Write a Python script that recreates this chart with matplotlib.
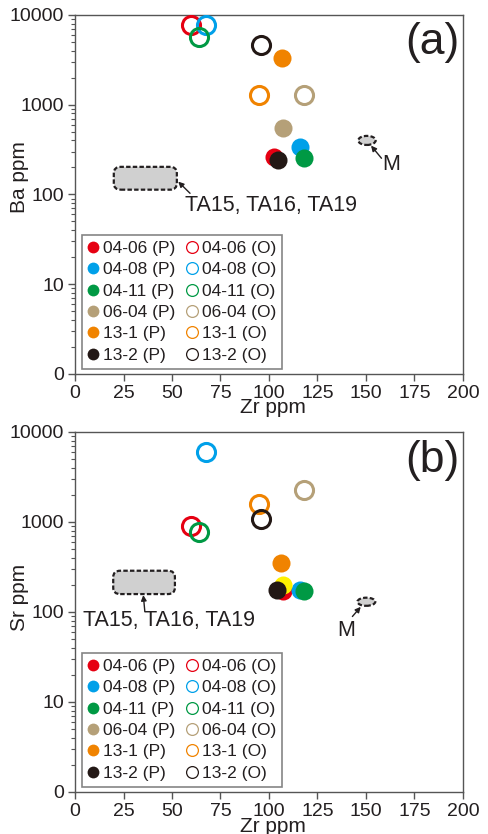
import numpy as np
import matplotlib
matplotlib.use('Agg')
import matplotlib.pyplot as plt
from matplotlib.lines import Line2D
from matplotlib.patches import FancyBboxPatch, Ellipse

plt.rcParams['font.family'] = ['Liberation Sans', 'DejaVu Sans']

# sample names and colours
samples = ['04-06', '04-08', '04-11', '06-04', '13-1', '13-2']
colors = ['#e60012', '#00a0e9', '#009944', '#b5a078', '#f08300', '#231815']
textc = '#231f20'

# panel (a): Zr vs Ba, plagioclase (P) and other (O)
zr_p_a = [102.7, 116.0, 118.2, 107.4, 106.5, 104.8]
ba_p = [264, 341, 257, 546, 3340, 242]
zr_o_a = [59.6, 67.5, 63.9, 118.2, 94.8, 95.7]
ba_o = [7750, 7750, 5730, 1285, 1285, 4630]

# panel (b): Zr vs Sr
zr_p_b = [107.0, 115.9, 118.1, 107.3, 106.4, 103.9]
sr_p = [171, 175, 172, 199, 352, 175]
zr_o_b = [59.6, 67.5, 63.9, 118.1, 94.8, 95.8]
sr_o = [906, 6000, 778, 2255, 1577, 1066]
# 06-04 (P) shows up yellow in (b)
colors_p_b = ['#e60012', '#00a0e9', '#009944', '#fff100', '#f08300', '#231815']

# field outlines (x range, y range)
ta_a = [(20, 52.5), (113, 203)]
m_a = [(146, 155), (356, 449)]
ta_b = [(19.7, 51.5), (158, 287)]
m_b = [(145.6, 154.8), (117, 144)]

ticks_y = [1, 10, 100, 1000, 10000]
ticks_y_lab = ['0', '10', '100', '1000', '10000']
ticks_x = [0, 25, 50, 75, 100, 125, 150, 175, 200]

fig = plt.figure(figsize=(4.88, 8.34), dpi=100)
ax1 = fig.add_axes([0.1537, 0.5516, 0.795, 0.4305])
ax2 = fig.add_axes([0.1537, 0.0504, 0.795, 0.4317])


def d2a(ax, x, y):
    pts = ax.transData.transform(np.column_stack([x, y]))
    return ax.transAxes.inverted().transform(pts)


def setup(ax, ylab, ylab_y, xlab_y, letter):
    ax.set_yscale('log')
    ax.set_xlim(0, 200)
    ax.set_ylim(1, 10000)
    ax.set_yticks(ticks_y)
    ax.set_yticklabels(ticks_y_lab)
    ax.set_xticks(ticks_x)
    ax.set_xticklabels([str(t) for t in ticks_x])
    ax.tick_params(axis='both', direction='out', labelsize=14, colors='#555555',
                   labelcolor=textc, length=5, width=1, pad=3)
    ax.tick_params(axis='y', which='minor', direction='out', length=3, width=0.8,
                   colors='#555555')
    for s in ax.spines.values():
        s.set_color('#555555')
        s.set_linewidth(1)
    ax.set_xlabel('Zr ppm', fontsize=15, color=textc)
    ax.xaxis.set_label_coords(0.51, xlab_y)
    ax.set_ylabel(ylab, fontsize=15, color=textc)
    ax.yaxis.set_label_coords(-0.119, ylab_y)
    ax.text(0.992, 0.922, letter, transform=ax.transAxes, ha='right', va='center',
            fontsize=32, color=textc)


def field(ax, xr, yr, rounded):
    p = d2a(ax, xr, yr)
    x0, y0 = p[0]
    x1, y1 = p[1]
    if rounded:
        pad = 0.018
        patch = FancyBboxPatch((x0 + pad, y0 + pad), x1 - x0 - 2 * pad, y1 - y0 - 2 * pad,
                               boxstyle='round,pad=%f' % pad, transform=ax.transAxes,
                               facecolor='#d0d0d0', edgecolor='#231f20', lw=1.6,
                               ls=(0, (2, 1)), zorder=2)
    else:
        patch = Ellipse(((x0 + x1) / 2, (y0 + y1) / 2), x1 - x0, y1 - y0,
                        transform=ax.transAxes, facecolor='#d0d0d0',
                        edgecolor='#231f20', lw=1.6, ls=(0, (2, 1)), zorder=2)
    ax.add_patch(patch)


def plot_points(ax, zp, vp, cp, zo, vo):
    for i in range(len(samples)):
        ax.plot(zo[i], vo[i], 'o', ms=13, mfc='none', mec=colors[i], mew=2.2, zorder=3)
    for i in range(len(samples)):
        ax.plot(zp[i], vp[i], 'o', ms=13, mfc=cp[i], mec='none', zorder=4)


def legend(ax):
    hp = [Line2D([], [], ls='none', marker='o', ms=8.5, mfc=c, mec='none') for c in colors]
    ho = [Line2D([], [], ls='none', marker='o', ms=8.5, mfc='none', mec=c, mew=0.9) for c in colors]
    labs = [s + ' (P)' for s in samples] + [s + ' (O)' for s in samples]
    lg = ax.legend(hp + ho, labs, ncol=2, loc='lower left', bbox_to_anchor=(0.018, 0.014),
                   fontsize=12.5, frameon=True, fancybox=False, handlelength=0.6,
                   handletextpad=0.25, columnspacing=0.7, labelspacing=0.36,
                   borderpad=0.35, borderaxespad=0)
    lg.get_frame().set_edgecolor('#666666')
    lg.get_frame().set_linewidth(1.2)
    for t in lg.get_texts():
        t.set_color(textc)


arrow = dict(arrowstyle='-|>', color=textc, lw=1, mutation_scale=8, shrinkA=0, shrinkB=0)

# panel (a)
setup(ax1, 'Ba ppm', 0.549, -0.068, '(a)')
field(ax1, *ta_a, True)
field(ax1, *m_a, False)
plot_points(ax1, zr_p_a, ba_p, colors, zr_o_a, ba_o)
ax1.annotate('', xy=(53.2, 139), xytext=(59.3, 103), arrowprops=arrow)
ax1.text(56.5, 76, 'TA15, TA16, TA19', fontsize=15.5, color=textc, va='center', ha='left')
ax1.annotate('', xy=(152.6, 350), xytext=(158, 253), arrowprops=arrow)
ax1.text(163.2, 213, 'M', fontsize=15.5, color=textc, va='center', ha='center')
legend(ax1)

# panel (b)
setup(ax2, 'Sr ppm', 0.539, -0.07, '(b)')
field(ax2, *ta_b, True)
field(ax2, *m_b, False)
plot_points(ax2, zr_p_b, sr_p, colors_p_b, zr_o_b, sr_o)
ax2.annotate('', xy=(35.2, 154), xytext=(36, 101), arrowprops=arrow)
ax2.text(3.9, 81, 'TA15, TA16, TA19', fontsize=15.5, color=textc, va='center', ha='left')
ax2.annotate('', xy=(147.3, 114), xytext=(143, 89), arrowprops=arrow)
ax2.text(139.9, 63, 'M', fontsize=15.5, color=textc, va='center', ha='center')
legend(ax2)

fig.savefig('out.png', dpi=100)
